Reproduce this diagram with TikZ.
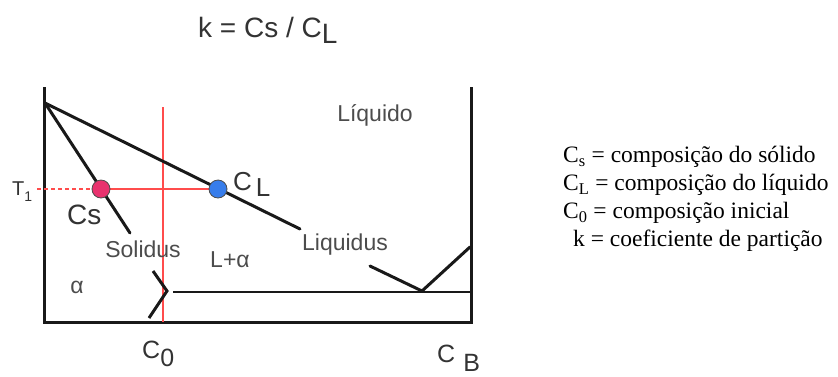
\documentclass[tikz,border=0pt]{standalone}
\usepackage{fontspec}
\setmainfont{Liberation Sans}
\newfontfamily\legfont{Liberation Serif}
\tikzset{
  axis/.style={line width=3pt, black!90},
  curve/.style={line width=3pt, black!90, line cap=round},
  redline/.style={line width=1.6pt, red!70!white},
  dot/.style={circle, draw=black!70, line width=0.8pt, minimum size=18pt, inner sep=0pt},
  lbl/.style={text=black!70, font=\fontsize{23}{26}\selectfont, inner sep=0pt},
  big/.style={text=black!80, font=\fontsize{26}{30}\selectfont, inner sep=0pt, anchor=base west},
  leg/.style={text=black, font=\legfont\fontsize{23.5}{28}\selectfont, inner sep=0pt, anchor=west}
}
\begin{document}
\begin{tikzpicture}[x=1pt,y=-1pt]
\useasboundingbox (0,0) rectangle (838,376);
% title
\node[big, font=\fontsize{28}{32}\selectfont] (title) at (198,37) {k = Cs / C\raisebox{-6pt}{L}};
% axes
\coordinate (tl) at (44,87);
\coordinate (bl) at (44,322);
\coordinate (br) at (471,322);
\coordinate (tr) at (471,87);
\draw[axis] (tl) -- (bl) -- (br) -- (tr);
% red lines
\coordinate (pcs) at (101,189);
\coordinate (pcl) at (218,189);
\coordinate (t1end) at (37,189);
\coordinate (c0top) at (163,107);
\coordinate (c0bot) at (163,322);
\draw[redline] (c0top) -- (c0bot);
\draw[redline] (pcs) -- (pcl);
\draw[redline, dashed, dash pattern=on 4pt off 3pt] (t1end) -- (pcs);
% liquidus / solidus
\coordinate (apex) at (45,103);
\coordinate (liqend) at (300,229);
\coordinate (liq2a) at (370,266);
\coordinate (eut) at (422,291);
\coordinate (liq3) at (470,247);
\coordinate (solend) at (130,233);
\coordinate (sv1) at (153,271);
\coordinate (sv2) at (167,291);
\coordinate (sv3) at (149,318);
\coordinate (eutl) at (173,292);
\coordinate (eutr) at (470,292);
\draw[curve] (apex) -- (liqend);
\draw[curve] (apex) -- (solend);
\draw[curve] (liq2a) -- (eut) -- (liq3);
\draw[curve, line cap=butt] (sv1) -- (sv2) -- (sv3);
\draw[axis, line width=2.6pt] (eutl) -- (eutr);
% dots
\node[dot, fill={rgb,255:red,232;green,50;blue,110}] (cs) at (pcs) {};
\node[dot, fill={rgb,255:red,55;green,125;blue,235}] (cl) at (pcl) {};
% labels
\node[big, font=\fontsize{20}{22}\selectfont] (t1) at (12,195) {T\raisebox{-6pt}{\fontsize{14}{15}\selectfont 1}};
\node[big, font=\fontsize{28}{32}\selectfont] (cslbl) at (67,224) {Cs};
\node[big] (cllbl) at (233,190) {C\hspace{4pt}\raisebox{-6pt}{L}};
\node[lbl] (solidus) at (143,249) {Solidus};
\node[lbl] (lalpha) at (230,260) {L+α};
\node[lbl] (alpha) at (77,287) {α};
\node[lbl] (liquido) at (375,115) {Líquido};
\node[lbl] (liquidus) at (345,245) {Liquidus};
\node[big, font=\fontsize{25}{30}\selectfont] (c0) at (142,358) {C\raisebox{-8pt}{0}};
\node[big, font=\fontsize{25}{30}\selectfont] (cb) at (437,362) {C\hspace{8pt}\raisebox{-9pt}{B}};
% legend
\node[leg] (leg1) at (563,157) {C\textsubscript{s} = composição do sólido};
\node[leg] (leg2) at (563,185) {C\textsubscript{L} = composição do líquido};
\node[leg] (leg3) at (563,213) {C\textsubscript{0} = composição inicial};
\node[leg] (leg4) at (573,241) {k = coeficiente de partição};
\end{tikzpicture}
\end{document}
